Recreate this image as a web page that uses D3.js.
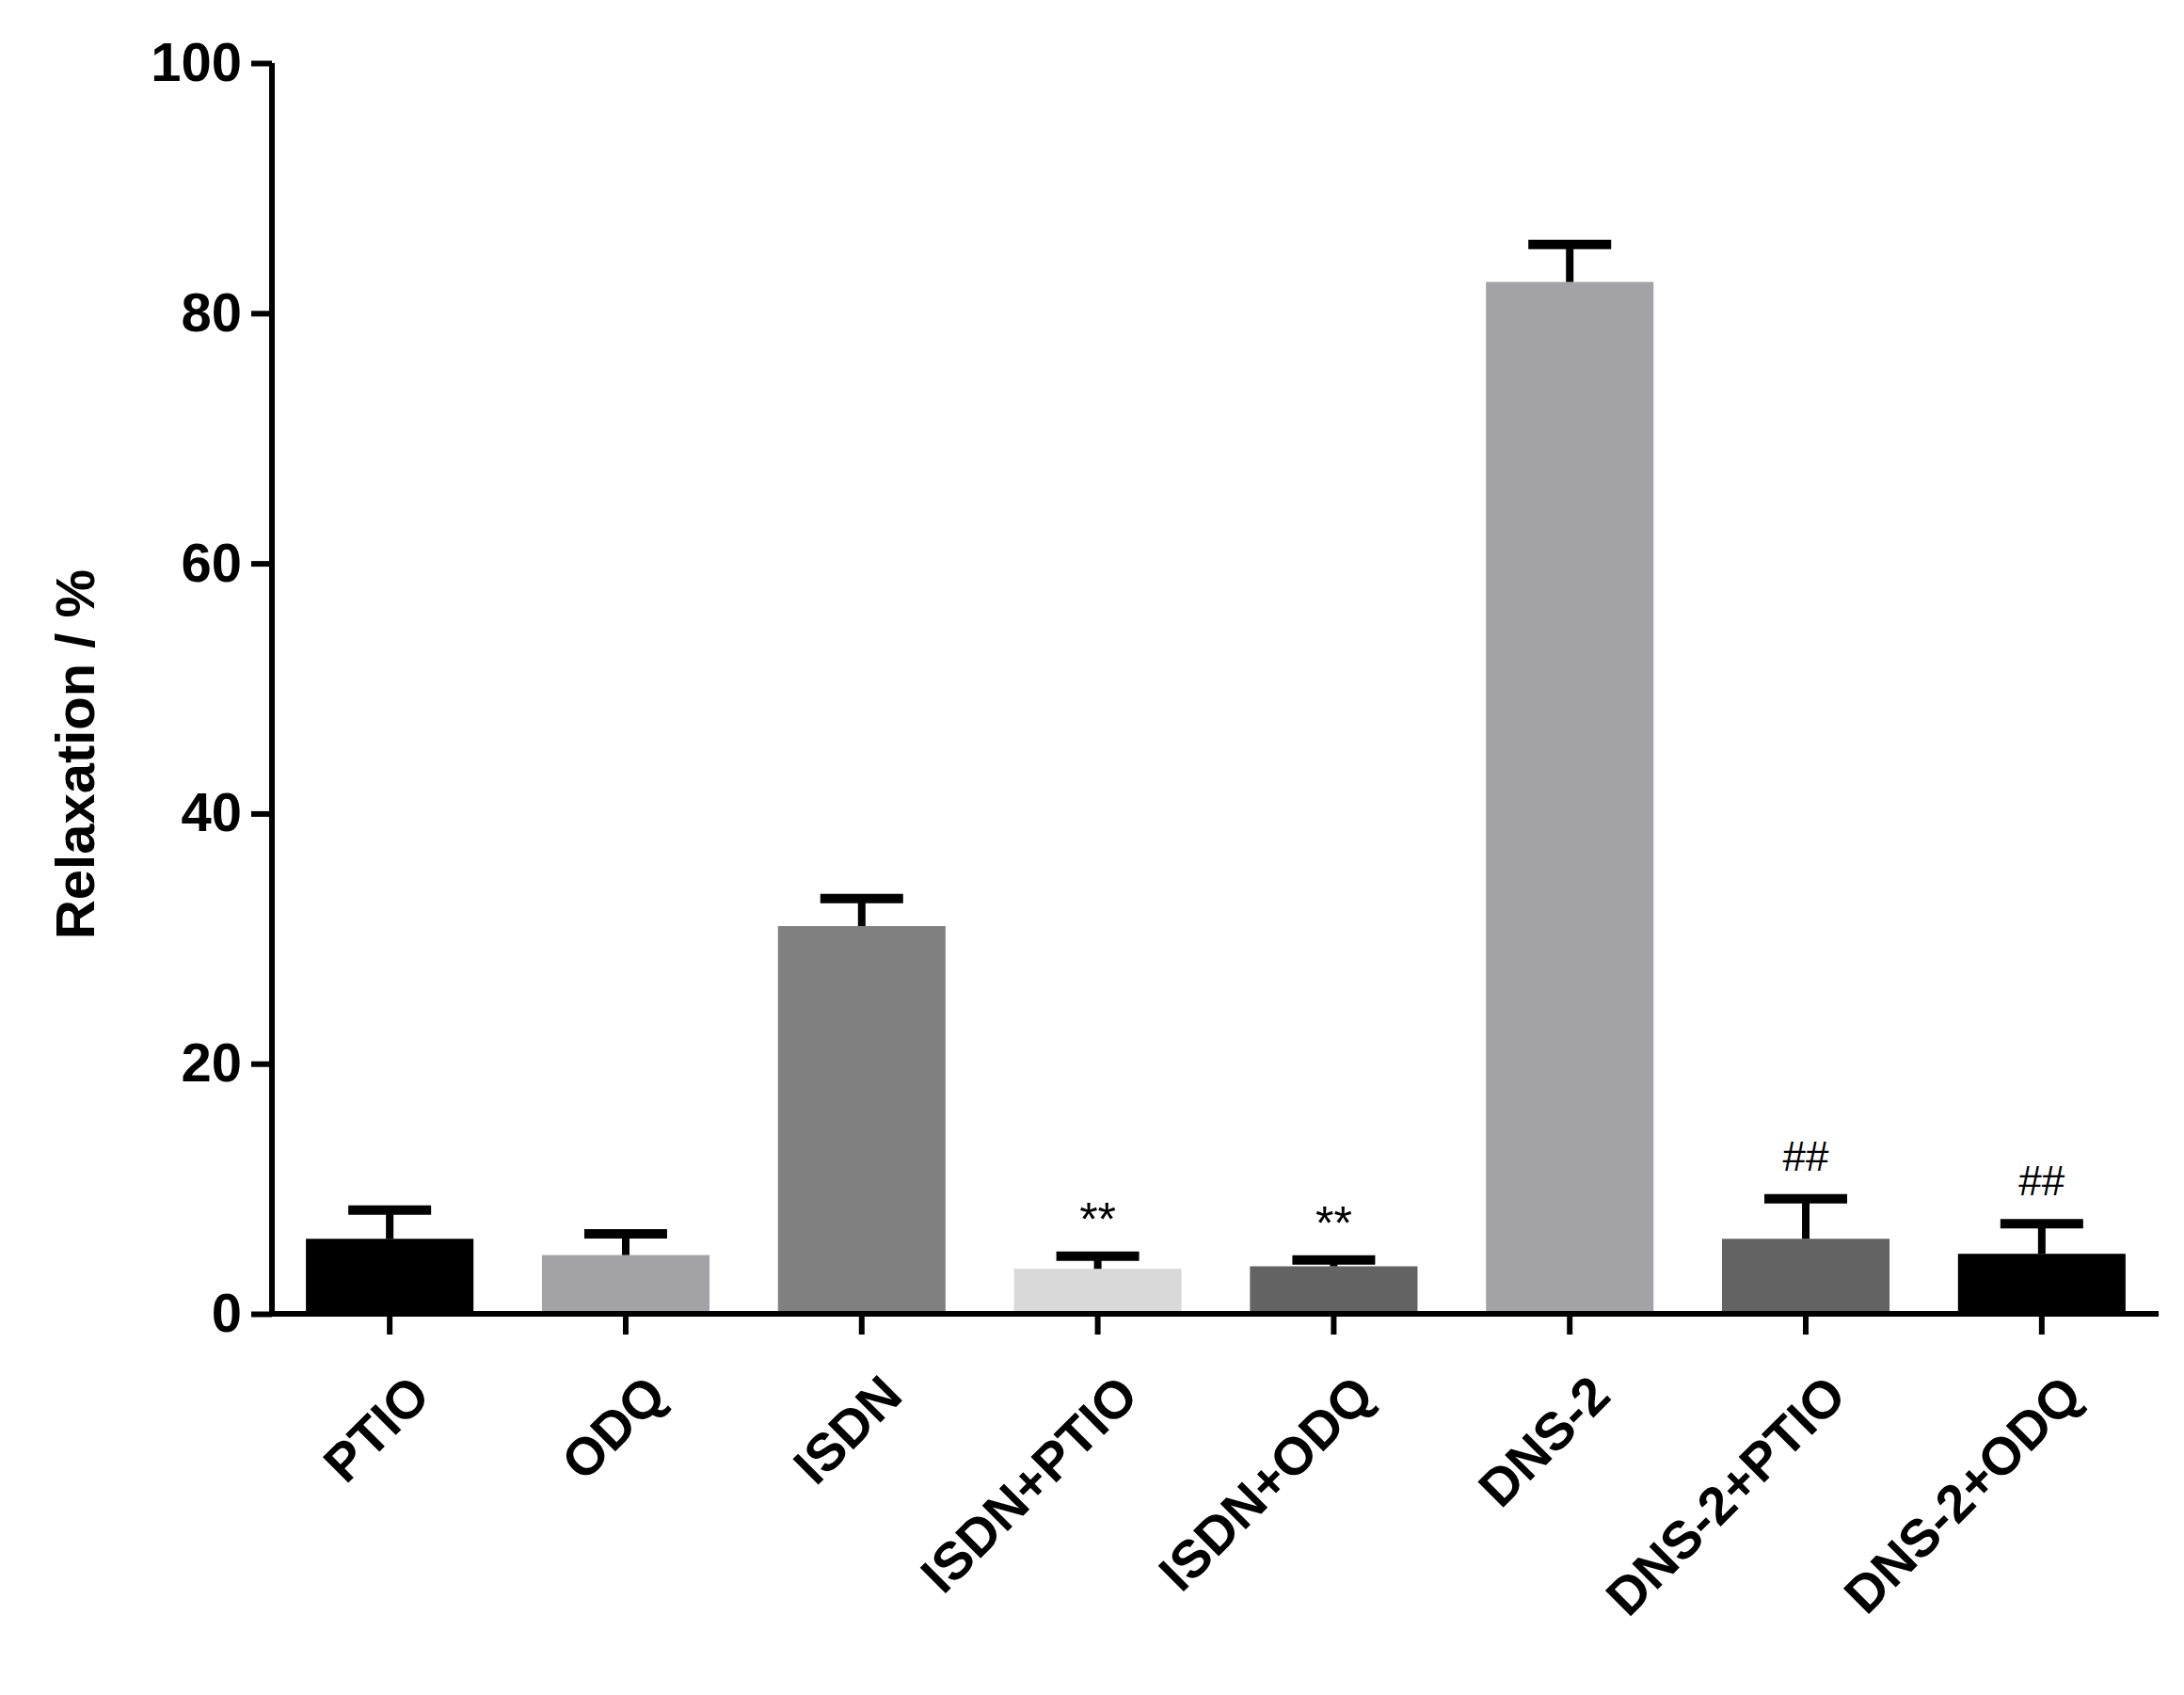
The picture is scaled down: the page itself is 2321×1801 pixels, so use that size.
<!DOCTYPE html>
<html><head><meta charset="utf-8">
<script src="https://cdn.jsdelivr.net/npm/d3@7"></script>
<style>body{margin:0;background:#fff}</style>
</head><body><div id="chart"></div>
<script>
var categories = ["PTIO", "ODQ", "ISDN", "ISDN+PTIO", "ISDN+ODQ", "DNS-2", "DNS-2+PTIO", "DNS-2+ODQ"];
var means = [6.0, 4.7, 31.0, 3.6, 3.8, 82.5, 6.0, 4.8];
var errors = [2.3, 1.7, 2.2, 1.0, 0.5, 3.0, 3.2, 2.4];
var marks = ["", "", "", "**", "**", "", "##", "##"];
var colors = ["#000000", "#a3a2a6", "#808080", "#d9d9d9", "#636363", "#a3a2a6", "#636363", "#000000"];
var yTicks = [0, 20, 40, 60, 80, 100];

var W = 2321, H = 1801;
var mLeft = 289, mRight = 2294, mTop = 67, mBottom = 1396;

var svg = d3.select("#chart").append("svg").attr("width", W).attr("height", H);

var x = d3.scaleBand().domain(categories).range([mLeft + 1, mRight]).paddingInner(0.29).paddingOuter(0.14);
var y = d3.scaleLinear().domain([0, 100]).range([mBottom, mTop]);

// bars
svg.selectAll("rect.bar").data(categories).enter().append("rect")
  .attr("x", function (d) { return x(d); })
  .attr("y", function (d, i) { return y(means[i]); })
  .attr("width", x.bandwidth())
  .attr("height", function (d, i) { return y(0) - y(means[i]); })
  .style("fill", function (d, i) { return colors[i]; });

// error bars (upper only)
categories.forEach(function (c, i) {
  var cx = x(c) + x.bandwidth() / 2;
  var top1 = y(means[i] + errors[i]);
  svg.append("line").attr("x1", cx).attr("x2", cx).attr("y1", y(means[i])).attr("y2", top1)
    .style("stroke", "#000").style("stroke-width", 8);
  svg.append("line").attr("x1", cx - 44).attr("x2", cx + 44).attr("y1", top1).attr("y2", top1)
    .style("stroke", "#000").style("stroke-width", 10);
  if (marks[i]) {
    svg.append("text").attr("x", cx).attr("y", top1 - (marks[i] == "**" ? 22 : 30))
      .attr("text-anchor", "middle")
      .style("font-family", "Liberation Sans, Arial, sans-serif")
      .style("font-size", marks[i] == "**" ? "50px" : "44px")
      .text(marks[i]);
  }
});

// axes
var yAxis = d3.axisLeft(y).tickValues(yTicks).tickSize(22).tickPadding(10);
var gy = svg.append("g").attr("transform", "translate(" + mLeft + ",0)").call(yAxis);
var xAxis = d3.axisBottom(x).tickSize(22).tickFormat("");
var gx = svg.append("g").attr("transform", "translate(0," + mBottom + ")").call(xAxis);
[gy, gx].forEach(function (g) {
  g.select(".domain").style("stroke", "#000").style("stroke-width", 6);
  g.selectAll(".tick line").style("stroke", "#000").style("stroke-width", 6);
});
gx.select(".domain").attr("d", "M" + (mLeft - 3) + ",0H" + mRight);
gy.select(".domain").attr("d", "M0," + mTop + "V" + (mBottom + 3));
gy.selectAll("text").style("font-family", "Liberation Sans, Arial, sans-serif")
  .style("font-weight", "bold").style("font-size", "58px").style("fill", "#000");

// rotated category labels
categories.forEach(function (c) {
  var cx = x(c) + x.bandwidth() / 2;
  svg.append("text")
    .attr("transform", "translate(" + (cx + 18) + "," + (mBottom + 62) + ") rotate(-45)")
    .attr("text-anchor", "end")
    .attr("dy", "0.7em")
    .style("font-family", "Liberation Sans, Arial, sans-serif")
    .style("font-weight", "bold").style("font-size", "56px")
    .text(c);
});

// y label
svg.append("text")
  .attr("transform", "translate(100," + ((mTop + mBottom) / 2 + 70) + ") rotate(-90)")
  .attr("text-anchor", "middle")
  .style("font-family", "Liberation Sans, Arial, sans-serif")
  .style("font-weight", "bold").style("font-size", "58px")
  .text("Relaxation / %");
</script></body></html>
